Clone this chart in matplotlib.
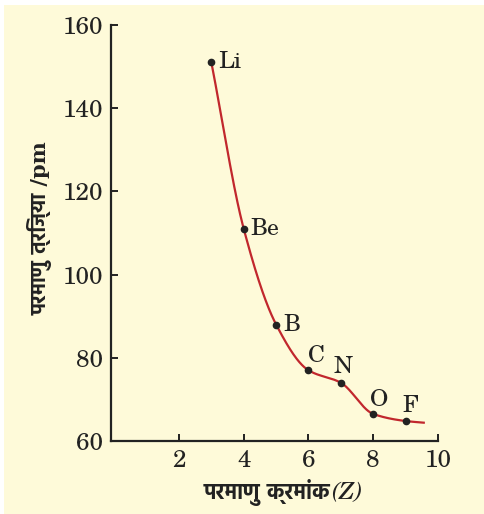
import numpy as np
import matplotlib
matplotlib.use("Agg")
import matplotlib.pyplot as plt
from matplotlib.patches import Rectangle
import logging
logging.getLogger("matplotlib.font_manager").setLevel(logging.ERROR)

# ---- data ----
elements = ["Li", "Be", "B", "C", "N", "O", "F"]
atomic_number = [3, 4, 5, 6, 7, 8, 9]
atomic_radius = [151, 111, 88, 77, 74, 66.5, 64.8]
curve_tail_x = [9.56]
curve_tail_y = [64.4]
x_ticks = [2, 4, 6, 8, 10]
y_ticks = [60, 80, 100, 120, 140, 160]
x_label = "परमाणु क्रमांक"
x_label_sym = "(Z)"
y_label = "परमाणु त्रिज्या /pm"

# ---- style ----
BG = "#fefad9"
RED = "#c1272d"
INK = "#222222"
SERIF = ["C059", "TeX Gyre Schola", "Century Schoolbook L", "DejaVu Serif"]
DEVA = ["DejaVu Serif", "Hind"]
label_offsets = {"Li": (5, 0, "left", "center"), "Be": (5, 0, "left", "center"),
                 "B": (5, 0, "left", "center"), "C": (0, 10, "left", "center"),
                 "N": (1.5, 11, "center", "center"), "O": (4, 10, "center", "center"),
                 "F": (3.5, 11, "center", "center")}


def pchip(x, y, xs):
    x = np.asarray(x, float); y = np.asarray(y, float)
    h = np.diff(x); d = np.diff(y) / h
    n = len(x); m = np.zeros(n)
    for k in range(1, n - 1):
        if d[k - 1] * d[k] > 0:
            w1 = 2 * h[k] + h[k - 1]; w2 = h[k] + 2 * h[k - 1]
            m[k] = (w1 + w2) / (w1 / d[k - 1] + w2 / d[k])
    m[0] = d[0]
    m[-1] = d[-1]
    idx = np.clip(np.searchsorted(x, xs) - 1, 0, n - 2)
    t = (xs - x[idx]) / h[idx]
    h00 = 2 * t**3 - 3 * t**2 + 1; h10 = t**3 - 2 * t**2 + t
    h01 = -2 * t**3 + 3 * t**2; h11 = t**3 - t**2
    return h00 * y[idx] + h10 * h[idx] * m[idx] + h01 * y[idx + 1] + h11 * h[idx] * m[idx + 1]


W, H = 484, 514
fig = plt.figure(figsize=(W / 100, H / 100), dpi=100, facecolor=BG)
fig.patches.append(Rectangle((0, 1 - 5 / H), 1, 5 / H, transform=fig.transFigure,
                             facecolor="white", edgecolor="none", zorder=-1))
fig.patches.append(Rectangle((0, 0), 4 / W, 1, transform=fig.transFigure,
                             facecolor="white", edgecolor="none", zorder=-1))

left, right, top, bottom = 111 / W, 438 / W, 1 - 25 / H, 1 - 441 / H
ax = fig.add_axes([left, bottom, right - left, top - bottom])
ax.set_facecolor(BG)

cx = atomic_number + curve_tail_x
cy = atomic_radius + curve_tail_y
xs = np.linspace(cx[0], cx[-1], 400)
ax.plot(xs, pchip(cx, cy, xs), color=RED, lw=1.6, zorder=2)
ax.plot(atomic_number, atomic_radius, "o", color=INK, ms=4.5, zorder=3)

for el, xv, yv in zip(elements, atomic_number, atomic_radius):
    dx, dy, ha, va = label_offsets[el]
    ax.annotate(el, (xv, yv), xytext=(dx, dy), textcoords="offset points",
                ha=ha, va=va, fontsize=17, family=SERIF, color=INK)

ax.set_xlim(-0.1, 10)
ax.set_ylim(60, 160)
ax.set_xticks(x_ticks)
ax.set_yticks(y_ticks)
for s in ["top", "right"]:
    ax.spines[s].set_visible(False)
for s in ["left", "bottom"]:
    ax.spines[s].set_color(INK)
    ax.spines[s].set_linewidth(1.6)
ax.tick_params(direction="in", length=5, width=1.4, color=INK, labelsize=17.5,
               labelcolor=INK, pad=6)
for lab in ax.get_xticklabels() + ax.get_yticklabels():
    lab.set_family(SERIF)

fig.text(330 / W, 1 - 493 / H, x_label, ha="right", va="center", fontsize=15.5,
         fontweight="bold", family=DEVA, color=INK)
fig.text(331 / W, 1 - 493 / H, x_label_sym, ha="left", va="center", fontsize=17,
         style="italic", family=SERIF, color=INK)
fig.text(40 / W, 1 - 228 / H, y_label, ha="center", va="center", rotation=90,
         fontsize=15, fontweight="bold", family=DEVA, color=INK)

fig.savefig("out.png", dpi=100, facecolor=BG)
